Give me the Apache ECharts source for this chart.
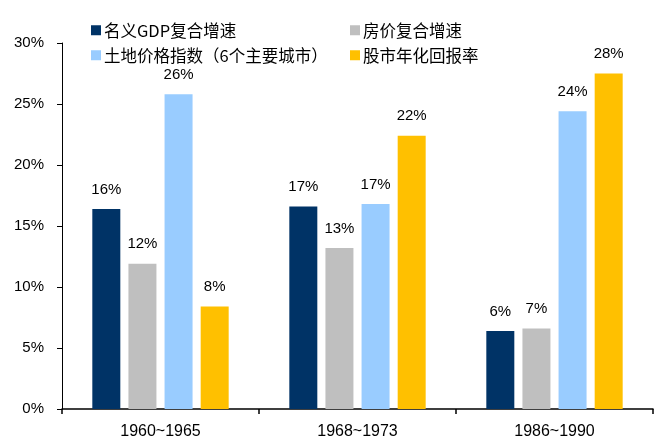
<!DOCTYPE html>
<html>
<head>
<meta charset="utf-8">
<script src="https://cdn.jsdelivr.net/npm/echarts@6/dist/echarts.min.js"></script>
<style>
  html, body { margin: 0; padding: 0; background: #fff; }
  #chart { width: 660px; height: 448px; }
</style>
</head>
<body>
<div id="chart"></div>
<script>
// 数据
var periods = ['1960~1965', '1968~1973', '1986~1990'];
var seriesNames = ['名义GDP复合增速', '房价复合增速', '土地价格指数（6个主要城市）', '股市年化回报率'];
var gdpGrowth = [16.4, 16.6, 6.4];
var housePrice = [11.9, 13.2, 6.6];
var landPrice = [25.8, 16.8, 24.4];
var stockReturn = [8.4, 22.4, 27.5];
var colors = ['#003366', '#BFBFBF', '#99CCFF', '#FFC000'];

var chart = echarts.init(document.getElementById('chart'));

var baseFont = 'Liberation Sans, Noto Sans CJK SC, sans-serif';
var cjkFont = 'Noto Sans CJK SC, sans-serif';

// 每个图例单独放，拼成两列两行
var legendPos = [
  { left: 86, top: 17 },
  { left: 345, top: 17 },
  { left: 86, top: 42 },
  { left: 345, top: 42 }
];
var legends = seriesNames.map(function (name, i) {
  return {
    data: [name],
    left: legendPos[i].left,
    top: legendPos[i].top,
    icon: 'rect',
    itemWidth: 10,
    itemHeight: 10,
    itemGap: 0,
    selectedMode: false,
    textStyle: { fontSize: 16.5, color: '#000', fontFamily: cjkFont, padding: [0, 0, 0, -2] }
  };
});

var dataList = [gdpGrowth, housePrice, landPrice, stockReturn];
var series = dataList.map(function (d, i) {
  return {
    name: seriesNames[i],
    type: 'bar',
    data: d,
    barWidth: 28,
    barGap: '29%',
    itemStyle: { color: colors[i] },
    label: {
      show: true,
      position: 'top',
      distance: 12,
      color: '#000',
      fontSize: 15,
      fontFamily: baseFont,
      formatter: function (p) { return Math.round(p.value) + '%'; }
    }
  };
});

var option = {
  animation: false,
  legend: legends,
  grid: { left: 62, right: 7, top: 43, bottom: 39 },
  xAxis: {
    type: 'category',
    data: periods,
    axisLine: { lineStyle: { color: '#000', width: 1.5 } },
    axisTick: { show: true, length: 5, lineStyle: { color: '#000', width: 1.5 } },
    axisLabel: { color: '#000', fontSize: 16, fontFamily: baseFont, margin: 15 }
  },
  yAxis: {
    type: 'value',
    min: 0,
    max: 30,
    interval: 5,
    splitLine: { show: false },
    axisLine: { show: true, lineStyle: { color: '#000', width: 1 } },
    axisTick: { show: true, length: 5, lineStyle: { color: '#000' } },
    axisLabel: { color: '#000', fontSize: 15, fontFamily: baseFont, margin: 18, formatter: '{value}%' }
  },
  series: series
};

chart.setOption(option);
</script>
</body>
</html>
